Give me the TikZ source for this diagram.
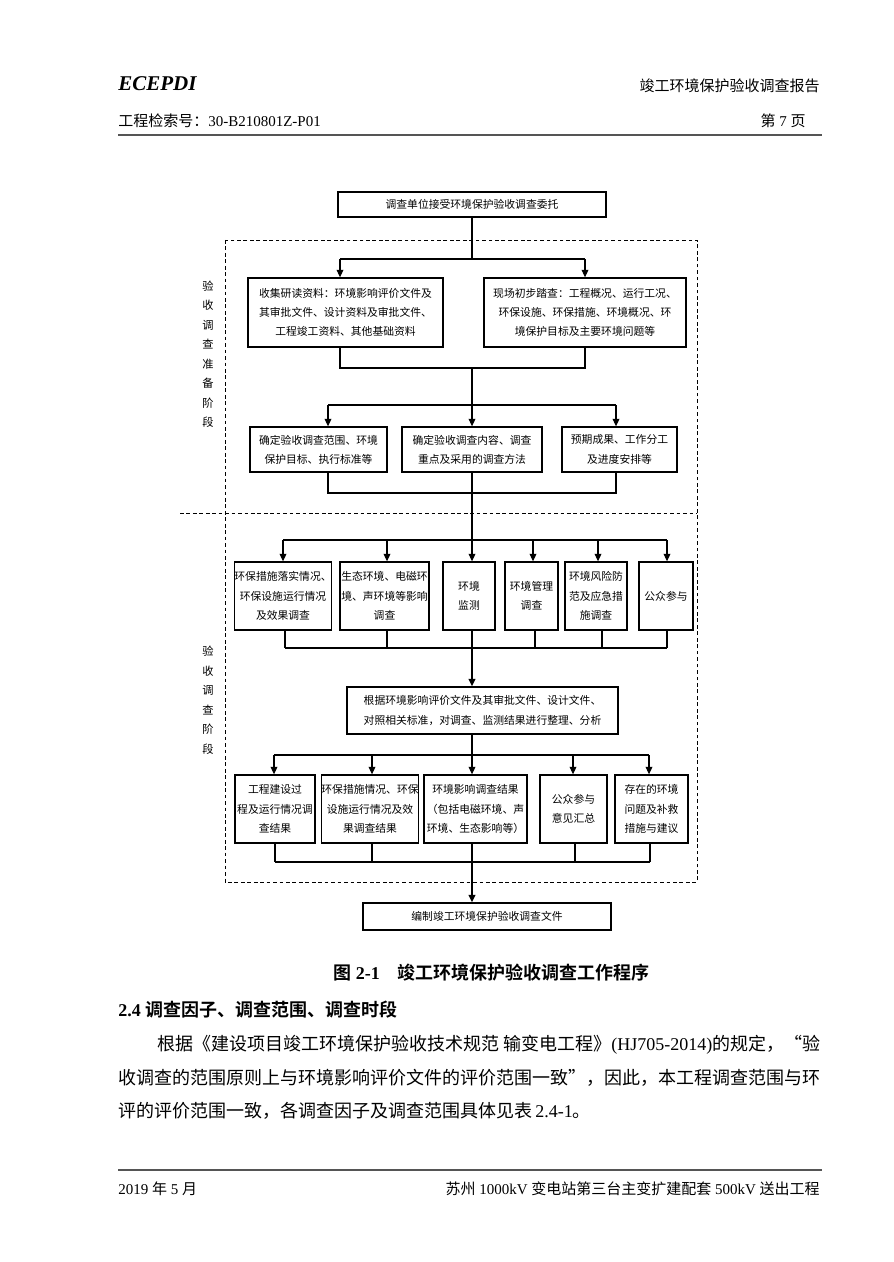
\documentclass[tikz,border=0pt]{standalone}
\usepackage{fontspec}
\setmainfont{Liberation Serif}
\newfontfamily\cjk{Noto Sans CJK SC}[BoldFont={Noto Sans CJK SC Bold}]
\usetikzlibrary{arrows.meta,positioning}
\definecolor{tinta}{HTML}{000000}
\definecolor{regla}{HTML}{555555}
\newdimen\pxu
\pxu=0.6667pt
\tikzset{
  caja/.style={draw=tinta,line width=0.9pt,fill=white,inner sep=0pt,align=center,font=\cjk\fontsize{7.2}{12.8}\selectfont},
  tam/.style 2 args={minimum width=#1\pxu,minimum height=#2\pxu},
  linea/.style={draw=tinta,line width=0.7pt},
  eje/.style={draw=tinta,line width=1.3pt},
  flecha/.style={-{Triangle[length=5pt,width=4.5pt]}},
  marco/.style={draw=tinta,line width=0.6pt,dash pattern=on 2.5pt off 1.8pt},
  fase/.style={align=center,inner sep=0pt,font=\cjk\fontsize{7.5}{13}\selectfont},
  cabecera/.style={inner sep=0pt,font=\fontsize{10}{12}\selectfont},
  cuerpo/.style={inner sep=0pt,font=\fontsize{12}{14}\selectfont},
  regleta/.style={draw=regla,line width=1pt},
}

\begin{document}
\begin{tikzpicture}[x=0.6667pt,y=-0.6667pt]
\useasboundingbox[fill=white] (0,0) rectangle (893,1262);
\node[inner sep=0pt,anchor=west,font=\fontsize{14}{16}\selectfont\bfseries\itshape] (sigla) at (118,84) {ECEPDI};
\node[cabecera,anchor=east] (tituloinf) at (820,86) {\cjk 竣工环境保护验收调查报告};
\node[cabecera,anchor=west] (indice) at (118,121) {{\cjk 工程检索号：}30-B210801Z-P01};
\node[cabecera,anchor=east] (pagina) at (806,121) {{\cjk 第} 7 {\cjk 页}};
\draw[regleta] (118,135) -- (822,135);
\draw[marco] (225,240) rectangle (697,882);
\draw[marco] (180,513) -- (697,513);
\node[fase] (fprep) at (208,354) {验\\收\\调\\查\\准\\备\\阶\\段};
\node[fase] (fval) at (208,700) {验\\收\\调\\查\\阶\\段};
\node[caja,tam={268}{25}] (encargo) at (472,204.5) {调查单位接受环境保护验收调查委托};
\node[caja,tam={195}{69}] (recopila) at (345.5,312.5) {收集研读资料：环境影响评价文件及\\其审批文件、设计资料及审批文件、\\工程竣工资料、其他基础资料};
\node[caja,tam={202}{69}] (campo) at (585,312.5) {现场初步踏查：工程概况、运行工况、\\环保设施、环保措施、环境概况、环\\境保护目标及主要环境问题等};
\node[caja,tam={137}{45}] (rango) at (318.5,449.5) {确定验收调查范围、环境\\保护目标、执行标准等};
\node[caja,tam={140}{45}] (contenido) at (472,449.5) {确定验收调查内容、调查\\重点及采用的调查方法};
\node[caja,tam={115}{45}] (plan) at (619.5,449.5) {预期成果、工作分工\\及进度安排等};
\node[caja,tam={96}{68}] (medidas) at (283,596) {环保措施落实情况、\\环保设施运行情况\\及效果调查};
\node[caja,tam={89}{68}] (impacto) at (384.5,596) {生态环境、电磁环\\境、声环境等影响\\调查};
\node[caja,tam={52}{68}] (monitoreo) at (469,596) {环境\\监测};
\node[caja,tam={53}{68}] (gestion) at (531.5,596) {环境管理\\调查};
\node[caja,tam={62}{68}] (riesgo) at (596,596) {环境风险防\\范及应急措\\施调查};
\node[caja,tam={54}{68}] (publico) at (666,596) {公众参与};
\node[caja,tam={271}{47}] (analisis) at (482.5,710.5) {根据环境影响评价文件及其审批文件、设计文件、\\对照相关标准，对调查、监测结果进行整理、分析};
\node[caja,tam={80}{68}] (obra) at (275,809) {工程建设过\\程及运行情况调\\查结果};
\node[caja,tam={96}{68}] (resmedidas) at (370,809) {环保措施情况、环保\\设施运行情况及效\\果调查结果};
\node[caja,tam={103}{68}] (resimpacto) at (475.5,809) {环境影响调查结果\\（包括电磁环境、声\\环境、生态影响等）};
\node[caja,tam={67}{68}] (opinion) at (573.5,809) {公众参与\\意见汇总};
\node[caja,tam={73}{68}] (problemas) at (651.5,809) {存在的环境\\问题及补救\\措施与建议};
\node[caja,tam={248}{27}] (informe) at (487,916.5) {编制竣工环境保护验收调查文件};
\coordinate (a1) at (472,259);
\coordinate (a1i) at (340,259);
\coordinate (a1d) at (585,259);
\draw[eje] (encargo.south) -- (a1);
\draw[linea] (a1i) -- (a1d);
\draw[linea,flecha] (a1i) -- (a1i |- recopila.north);
\draw[linea,flecha] (a1d) -- (a1d |- campo.north);
\coordinate (b1) at (472,368);
\coordinate (b1i) at (340,368);
\coordinate (b1d) at (585,368);
\draw[linea] (b1i |- recopila.south) -- (b1i) -- (b1d) -- (b1d |- campo.south);
\coordinate (c1) at (472,405);
\coordinate (c1i) at (328,405);
\coordinate (c1d) at (616,405);
\draw[eje] (b1) -- (c1);
\draw[linea] (c1i) -- (c1d);
\draw[linea,flecha] (c1i) -- (c1i |- rango.north);
\draw[linea,flecha] (c1) -- (contenido.north);
\draw[linea,flecha] (c1d) -- (c1d |- plan.north);
\coordinate (d1i) at (328,493);
\coordinate (d1d) at (616,493);
\draw[linea] (d1i |- rango.south) -- (d1i) -- (d1d) -- (d1d |- plan.south);
\coordinate (e1) at (472,540);
\draw[eje] (contenido.south) -- (e1);
\draw[linea] (283,540) -- (667,540);
\foreach \caja/\x in {medidas/283,impacto/387,monitoreo/472,gestion/533,riesgo/598,publico/667}
  \draw[linea,flecha] (\x,540) -- (\x,540 |- \caja.north);
\foreach \caja/\x in {medidas/285,impacto/387,gestion/535,riesgo/602,publico/667}
  \draw[linea] (\x,0 |- \caja.south) -- (\x,648);
\draw[linea] (285,648) -- (667,648);
\draw[eje,flecha] (472,0 |- monitoreo.south) -- (472,0 |- analisis.north);
\coordinate (f1) at (472,755);
\draw[eje] (472,0 |- analisis.south) -- (f1);
\draw[linea] (274,755) -- (649,755);
\foreach \caja/\x in {obra/274,resmedidas/372,resimpacto/472,opinion/573,problemas/649}
  \draw[linea,flecha] (\x,755) -- (\x,755 |- \caja.north);
\foreach \caja/\x in {obra/275,resmedidas/372,opinion/575,problemas/650}
  \draw[linea] (\x,0 |- \caja.south) -- (\x,862);
\draw[linea] (275,862) -- (650,862);
\draw[eje,flecha] (472,0 |- resimpacto.south) -- (472,0 |- informe.north);
\node[cuerpo,anchor=west] (pie) at (333,973) {{\cjk\bfseries 图} \textbf{2-1}\hspace{12pt}{\cjk\bfseries 竣工环境保护验收调查工作程序}};
\node[cuerpo,anchor=west] (seccion) at (118,1010) {\textbf{2.4} {\cjk\bfseries 调查因子、调查范围、调查时段}};
\node[cuerpo,anchor=west] (linea1) at (157,1045) {{\cjk 根据《建设项目竣工环境保护验收技术规范\ 输变电工程》}(HJ705-2014){\cjk 的规定，“验}};
\node[cuerpo,anchor=west] (linea2) at (118,1078) {{\cjk 收调查的范围原则上与环境影响评价文件的评价范围一致”，因此，本工程调查范围与环}};
\node[cuerpo,anchor=west] (linea3) at (118,1111) {{\cjk 评的评价范围一致，各调查因子及调查范围具体见表}\,2.4-1{\cjk 。}};
\draw[regleta] (118,1170) -- (822,1170);
\node[cabecera,anchor=west] (fecha) at (118,1189) {2019 {\cjk 年} 5 {\cjk 月}};
\node[cabecera,anchor=east] (proyecto) at (820,1189) {{\cjk 苏州} 1000kV {\cjk 变电站第三台主变扩建配套} 500kV {\cjk 送出工程}};
\end{tikzpicture}
\end{document}
